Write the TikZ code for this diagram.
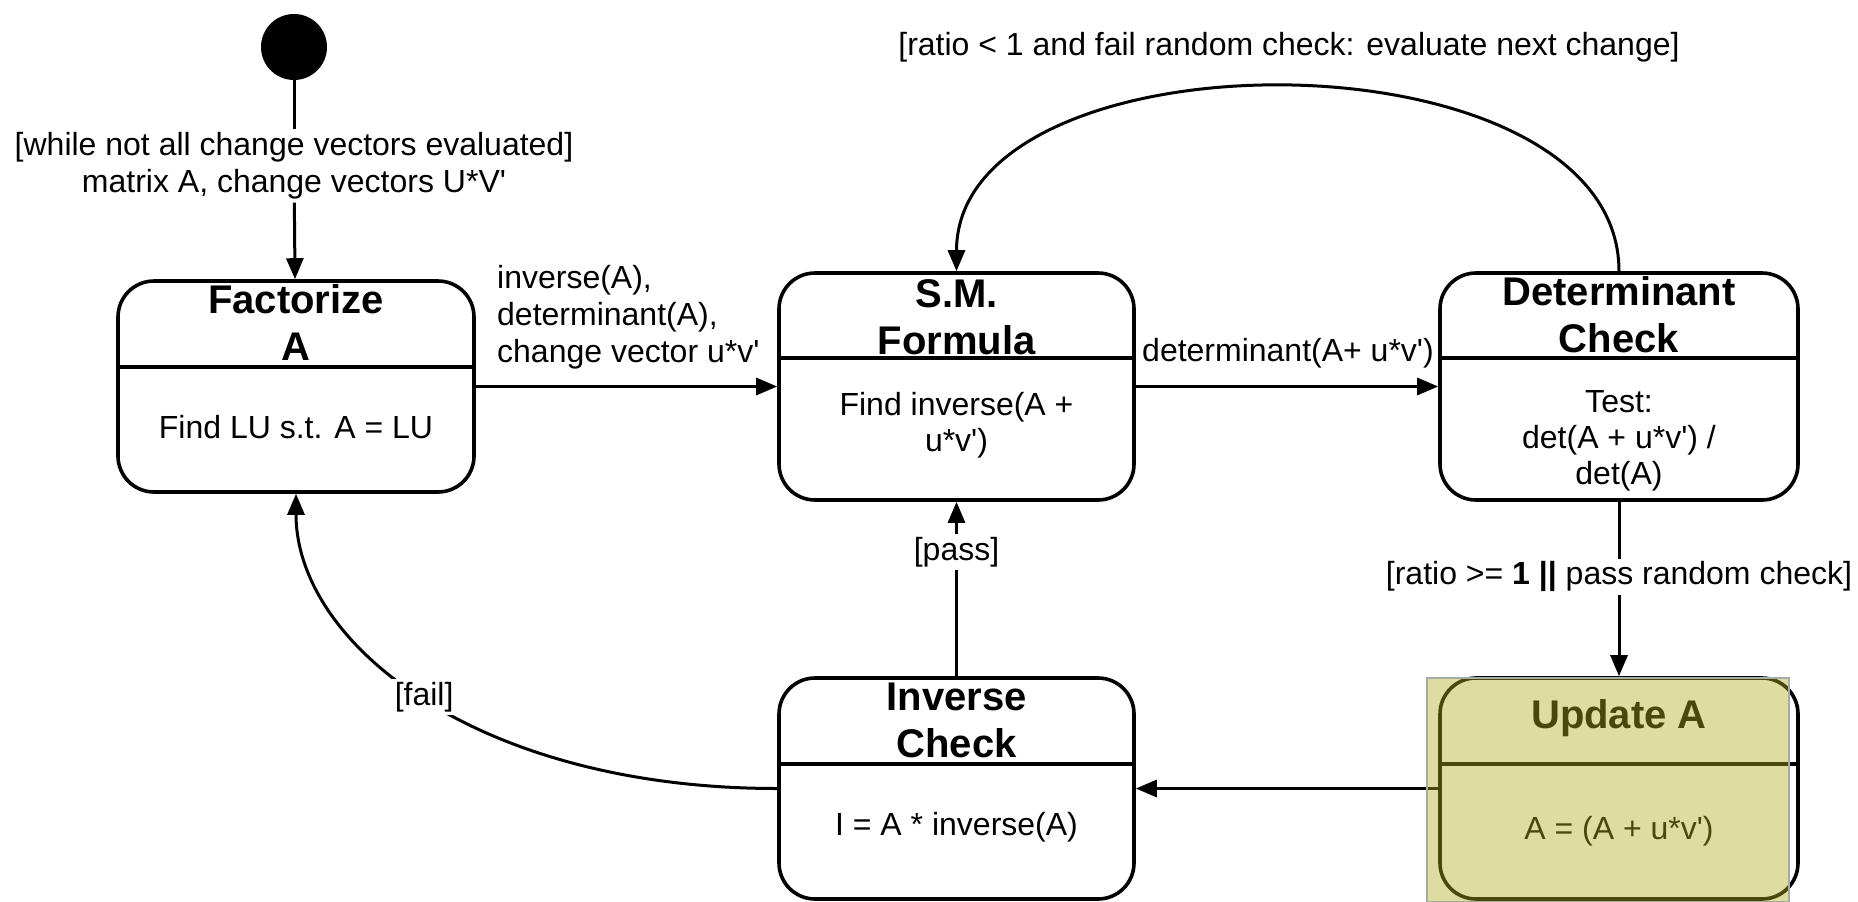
\documentclass[tikz,border=0pt]{standalone}
\usepackage{fontspec}
\setmainfont{Liberation Sans}
\usetikzlibrary{arrows.meta}
\definecolor{hl}{RGB}{176,171,28}
\definecolor{hledge}{RGB}{165,172,160}
\begin{document}
\begin{tikzpicture}[x=1pt,y=-1pt,
  state/.style={draw, line width=3.6pt, rounded corners=36pt, inner sep=0pt},
  part/.style={line width=3.4pt},
  ttl/.style={font=\fontsize{40}{47}\selectfont\bfseries, align=center, inner sep=0pt},
  txt/.style={font=\fontsize{32}{36}\selectfont, align=center, inner sep=0pt},
  lbl/.style={font=\fontsize{32}{37}\selectfont, inner sep=3pt},
  flow/.style={line width=3pt, -{Triangle[length=21pt,width=17pt]}},
  link/.style={line width=3pt}]
\useasboundingbox (0,0) rectangle (1858,902);

% states
\node[state, minimum width=356pt, minimum height=211pt] (fact) at (296,386.5) {};
\node[state, minimum width=355pt, minimum height=227pt] (sm) at (956.5,386.5) {};
\node[state, minimum width=358pt, minimum height=227pt] (det) at (1619,386.5) {};
\node[state, minimum width=355pt, minimum height=221pt] (inv) at (956.5,788.5) {};
\node[state, minimum width=358pt, minimum height=221pt] (upd) at (1619,788.5) {};

% compartment dividers
\draw[part] (fact.west |- 0,367) -- (fact.east |- 0,367);
\draw[part] (sm.west |- 0,358) -- (sm.east |- 0,358);
\draw[part] (det.west |- 0,358) -- (det.east |- 0,358);
\draw[part] (inv.west |- 0,764) -- (inv.east |- 0,764);
\draw[part] (upd.west |- 0,764) -- (upd.east |- 0,764);

% state names and activities
\node[ttl] (factT) at (296,323) {Factorize\\A};
\node[txt] (factB) at (296,427) {Find LU s.t. A = LU};
\node[ttl] (smT) at (956.5,317.5) {S.M.\\Formula};
\node[txt] (smB) at (956.5,425.5) {Find inverse(A +\\u*v\textquotesingle)};
\node[ttl] (detT) at (1619,315) {Determinant\\Check};
\node[txt] (detB) at (1619,441) {Test:\\det(A + u*v\textquotesingle) /\\det(A)};
\node[ttl] (invT) at (956.5,720.5) {Inverse\\Check};
\node[txt] (invB) at (956.5,827) {I = A * inverse(A)};
\node[ttl] (updT) at (1619,718) {Update A};
\node[txt] (updB) at (1619,831) {A = (A + u*v\textquotesingle)};

% initial pseudo-state
\node[circle, fill=black, minimum size=66pt, inner sep=0pt] (init) at (294,47) {};
\node[lbl, align=center] (guard) at (294,166) {[while not all change vectors evaluated]\\matrix A, change vectors U*V\textquotesingle};
\draw[link] (init) -- (guard);
\draw[flow] (guard) -- (fact);

% transitions
\draw[flow] (fact) -- (sm);
\node[lbl, align=left, anchor=west] (sendLbl) at (494,317) {inverse(A),\\determinant(A),\\change vector u*v\textquotesingle};
\draw[flow] (sm) -- (det);
\node[lbl] (detLbl) at (1288,353) {determinant(A+ u*v\textquotesingle)};
\draw[flow] (det.north) .. controls +(0,-245) and +(0,-245) .. (sm.north);
\node[lbl] (loopLbl) at (1289,47) {[ratio < 1 and fail random check: evaluate next change]};
\draw[flow] (det) -- (upd) node[lbl, pos=0.43, fill=white] (okLbl) {[ratio >= \textbf{1 ||} pass random check]};
\draw[flow] (upd) -- (inv);
\draw[flow] (inv) -- (sm) node[lbl, pos=0.71, fill=white] (passLbl) {[pass]};
\draw[flow] (inv.west) .. controls +(-300,0) and +(0,150) .. (fact.south) node[lbl, pos=0.5, fill=white] (failLbl) {[fail]};

% highlight over the update state
\fill[hl, fill opacity=0.42] (1427,678) rectangle (1789,902);
\draw[hledge, line width=1.5pt] (1427,678) rectangle (1789,902);
\end{tikzpicture}
\end{document}
